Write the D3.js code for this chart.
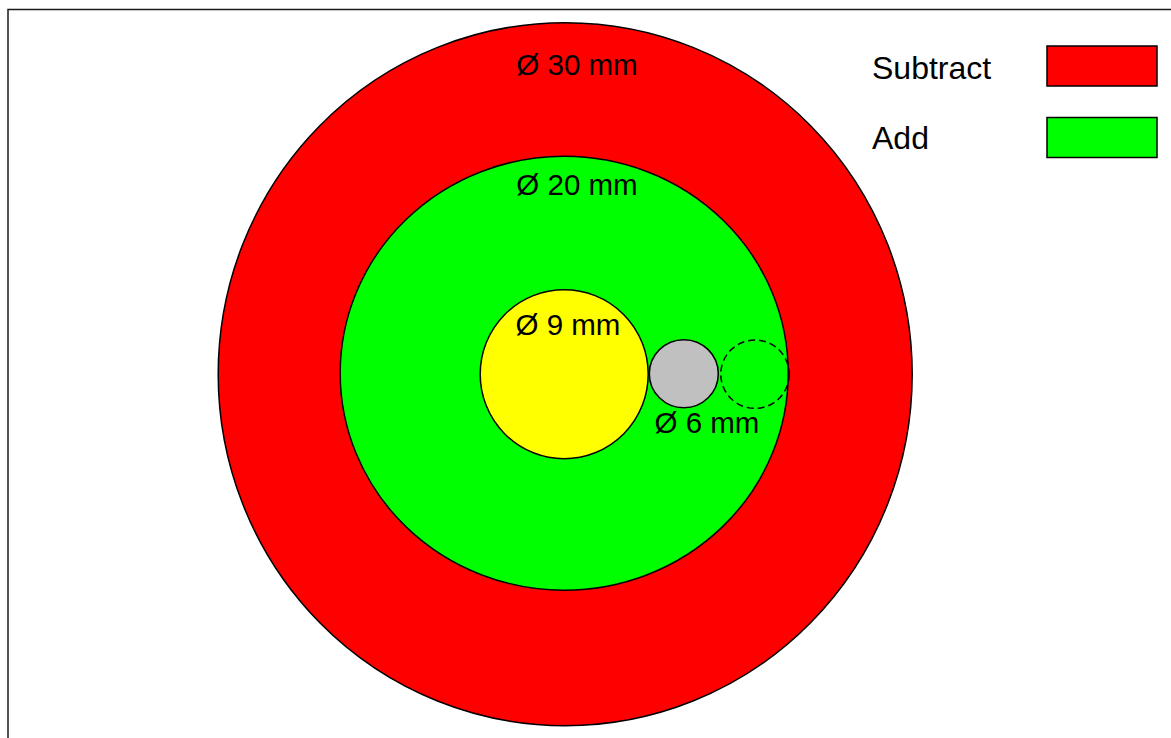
<!DOCTYPE html>
<html>
<head>
<meta charset="utf-8">
<script src="https://cdn.jsdelivr.net/npm/d3@7"></script>
<style>
  html, body { margin: 0; padding: 0; background: #fff; overflow: hidden; }
  svg { display: block; font-family: Arial, "Liberation Sans", sans-serif; }
</style>
</head>
<body>
<svg id="chart" width="1171" height="738"></svg>
<script>
// ---- data (drawing units, centre of the target = 0,0) ----
const shapeNames   = ["Ø 30 mm", "Ø 20 mm", "Ø 9 mm", "Ø 6 mm", "Ø 6 mm (alt)"];
const diametersMm  = [30, 20, 9, 6, 6];
const centreX      = [0, -1, -1, 118.6, 189.8];
const centreY      = [0, -1, 0, -0.5, 0];
const radiusX      = [347, 224, 84, 34.5, 34.2];
const radiusY      = [351.5, 217, 84.5, 34, 34.2];
const fills        = ["#ff0000", "#00ff00", "#ffff00", "#c0c0c0", "none"];
const dashed       = [false, false, false, false, true];
const legendLabels = ["Subtract", "Add"];
const legendColors = ["#ff0000", "#00ff00"];

const W = 1171, H = 738;
const svg = d3.select("#chart");

// scales: drawing units -> pixels
const x = d3.scaleLinear().domain([-565.2, W - 565.2]).range([0, W]);
const y = d3.scaleLinear().domain([-374.2, H - 374.2]).range([0, H]);
const kx = x(1) - x(0), ky = y(1) - y(0);

// frame
svg.append("rect")
  .attr("x", 8).attr("y", 9.5)
  .attr("width", W + 20).attr("height", H + 20)
  .attr("fill", "#fff").attr("stroke", "#1a1a1a").attr("stroke-width", 1.5);

const shapes = shapeNames.map((n, i) => ({
  name: n, d: diametersMm[i], cx: centreX[i], cy: centreY[i],
  rx: radiusX[i], ry: radiusY[i], fill: fills[i], dashed: dashed[i]
}));

svg.append("g").selectAll("ellipse").data(shapes).join("ellipse")
  .attr("cx", d => x(d.cx)).attr("cy", d => y(d.cy))
  .attr("rx", d => d.rx * kx).attr("ry", d => d.ry * ky)
  .attr("fill", d => d.fill)
  .attr("stroke", "#000")
  .attr("stroke-width", 1.5)
  .attr("stroke-dasharray", d => d.dashed ? "7,4" : null);

// diameter labels
const labelPos = [
  { i: 0, x: 577, y: 75 },
  { i: 1, x: 577, y: 195 },
  { i: 2, x: 568, y: 335 },
  { i: 3, x: 707, y: 433 }
];
svg.append("g").selectAll("text").data(labelPos).join("text")
  .attr("x", d => d.x).attr("y", d => d.y)
  .attr("text-anchor", "middle")
  .attr("font-size", 29.5)
  .attr("fill", "#000")
  .text(d => "Ø " + shapes[d.i].d + " mm");

// legend
const lg = svg.append("g");
const rowY = [79, 149];
const boxY = [46, 117.5];
lg.selectAll("text").data(legendLabels).join("text")
  .attr("x", 872).attr("y", (d, i) => rowY[i])
  .attr("font-size", 32).attr("fill", "#000")
  .text(d => d);
lg.selectAll("rect").data(legendColors).join("rect")
  .attr("x", 1047).attr("y", (d, i) => boxY[i])
  .attr("width", 110).attr("height", 40)
  .attr("fill", d => d).attr("stroke", "#000").attr("stroke-width", 1.5);
</script>
</body>
</html>
